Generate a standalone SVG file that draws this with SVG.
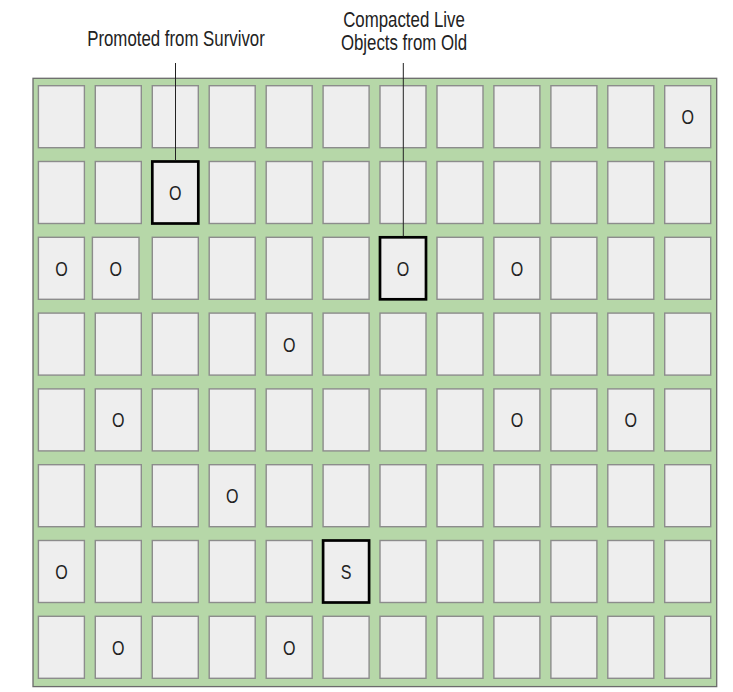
<svg xmlns="http://www.w3.org/2000/svg" width="733" height="692" viewBox="0 0 733 692">
<style>
.bg{fill:#b6d7a8;stroke:#6b6b6b;stroke-width:1.3}
.c{fill:#eeeeee;stroke:#8c8c8c;stroke-width:1.4}
.b{fill:#eeeeee;stroke:#000000;stroke-width:2.7}
.t{font-family:"Liberation Sans",Arial,sans-serif;font-size:21px;fill:#222222;text-anchor:middle}
.l{font-family:"Liberation Sans",Arial,sans-serif;font-size:22px;fill:#222222;text-anchor:middle}
.ln{stroke:#222222;stroke-width:1;fill:none}
</style>
<rect class="bg" x="33" y="78.3" width="683.7" height="608.3"/>
<g id="cells">
<g id="r0">
<g id="c0-0"><rect class="c" x="38.4" y="85.7" width="46" height="62"/></g>
<g id="c0-1"><rect class="c" x="95.3" y="85.7" width="46" height="62"/></g>
<g id="c0-2"><rect class="c" x="152.3" y="85.7" width="46" height="62"/></g>
<g id="c0-3"><rect class="c" x="209.2" y="85.7" width="46" height="62"/></g>
<g id="c0-4"><rect class="c" x="266.2" y="85.7" width="46" height="62"/></g>
<g id="c0-5"><rect class="c" x="323.1" y="85.7" width="46" height="62"/></g>
<g id="c0-6"><rect class="c" x="380" y="85.7" width="46" height="62"/></g>
<g id="c0-7"><rect class="c" x="437" y="85.7" width="46" height="62"/></g>
<g id="c0-8"><rect class="c" x="493.9" y="85.7" width="46" height="62"/></g>
<g id="c0-9"><rect class="c" x="550.9" y="85.7" width="46" height="62"/></g>
<g id="c0-10"><rect class="c" x="607.8" y="85.7" width="46" height="62"/></g>
<g id="c0-11"><rect class="c" x="664.7" y="85.7" width="46" height="62"/><text class="t" transform="translate(687.7 124.2) scale(0.765 1)">O</text></g>
</g>
<g id="r1">
<g id="c1-0"><rect class="c" x="38.4" y="161.5" width="46" height="62"/></g>
<g id="c1-1"><rect class="c" x="95.3" y="161.5" width="46" height="62"/></g>
<g id="c1-2"><rect class="b" x="152.3" y="161.5" width="46" height="62"/><text class="t" transform="translate(175.3 200) scale(0.765 1)">O</text></g>
<g id="c1-3"><rect class="c" x="209.2" y="161.5" width="46" height="62"/></g>
<g id="c1-4"><rect class="c" x="266.2" y="161.5" width="46" height="62"/></g>
<g id="c1-5"><rect class="c" x="323.1" y="161.5" width="46" height="62"/></g>
<g id="c1-6"><rect class="c" x="380" y="161.5" width="46" height="62"/></g>
<g id="c1-7"><rect class="c" x="437" y="161.5" width="46" height="62"/></g>
<g id="c1-8"><rect class="c" x="493.9" y="161.5" width="46" height="62"/></g>
<g id="c1-9"><rect class="c" x="550.9" y="161.5" width="46" height="62"/></g>
<g id="c1-10"><rect class="c" x="607.8" y="161.5" width="46" height="62"/></g>
<g id="c1-11"><rect class="c" x="664.7" y="161.5" width="46" height="62"/></g>
</g>
<g id="r2">
<g id="c2-0"><rect class="c" x="38.4" y="237.3" width="46" height="62"/><text class="t" transform="translate(61.4 275.8) scale(0.765 1)">O</text></g>
<g id="c2-1"><rect class="c" x="92.4" y="237.3" width="46.6" height="62"/><text class="t" transform="translate(115.8 275.8) scale(0.765 1)">O</text></g>
<g id="c2-2"><rect class="c" x="152.3" y="237.3" width="46" height="62"/></g>
<g id="c2-3"><rect class="c" x="209.2" y="237.3" width="46" height="62"/></g>
<g id="c2-4"><rect class="c" x="266.2" y="237.3" width="46" height="62"/></g>
<g id="c2-5"><rect class="c" x="323.1" y="237.3" width="46" height="62"/></g>
<g id="c2-6"><rect class="b" x="380" y="237.3" width="46" height="62"/><text class="t" transform="translate(403 275.8) scale(0.765 1)">O</text></g>
<g id="c2-7"><rect class="c" x="437" y="237.3" width="46" height="62"/></g>
<g id="c2-8"><rect class="c" x="493.9" y="237.3" width="46" height="62"/><text class="t" transform="translate(516.9 275.8) scale(0.765 1)">O</text></g>
<g id="c2-9"><rect class="c" x="550.9" y="237.3" width="46" height="62"/></g>
<g id="c2-10"><rect class="c" x="607.8" y="237.3" width="46" height="62"/></g>
<g id="c2-11"><rect class="c" x="664.7" y="237.3" width="46" height="62"/></g>
</g>
<g id="r3">
<g id="c3-0"><rect class="c" x="38.4" y="313.1" width="46" height="62"/></g>
<g id="c3-1"><rect class="c" x="95.3" y="313.1" width="46" height="62"/></g>
<g id="c3-2"><rect class="c" x="152.3" y="313.1" width="46" height="62"/></g>
<g id="c3-3"><rect class="c" x="209.2" y="313.1" width="46" height="62"/></g>
<g id="c3-4"><rect class="c" x="266.2" y="313.1" width="46" height="62"/><text class="t" transform="translate(289.2 351.6) scale(0.765 1)">O</text></g>
<g id="c3-5"><rect class="c" x="323.1" y="313.1" width="46" height="62"/></g>
<g id="c3-6"><rect class="c" x="380" y="313.1" width="46" height="62"/></g>
<g id="c3-7"><rect class="c" x="437" y="313.1" width="46" height="62"/></g>
<g id="c3-8"><rect class="c" x="493.9" y="313.1" width="46" height="62"/></g>
<g id="c3-9"><rect class="c" x="550.9" y="313.1" width="46" height="62"/></g>
<g id="c3-10"><rect class="c" x="607.8" y="313.1" width="46" height="62"/></g>
<g id="c3-11"><rect class="c" x="664.7" y="313.1" width="46" height="62"/></g>
</g>
<g id="r4">
<g id="c4-0"><rect class="c" x="38.4" y="388.9" width="46" height="62"/></g>
<g id="c4-1"><rect class="c" x="95.3" y="388.9" width="46" height="62"/><text class="t" transform="translate(118.3 427.4) scale(0.765 1)">O</text></g>
<g id="c4-2"><rect class="c" x="152.3" y="388.9" width="46" height="62"/></g>
<g id="c4-3"><rect class="c" x="209.2" y="388.9" width="46" height="62"/></g>
<g id="c4-4"><rect class="c" x="266.2" y="388.9" width="46" height="62"/></g>
<g id="c4-5"><rect class="c" x="323.1" y="388.9" width="46" height="62"/></g>
<g id="c4-6"><rect class="c" x="380" y="388.9" width="46" height="62"/></g>
<g id="c4-7"><rect class="c" x="437" y="388.9" width="46" height="62"/></g>
<g id="c4-8"><rect class="c" x="493.9" y="388.9" width="46" height="62"/><text class="t" transform="translate(516.9 427.4) scale(0.765 1)">O</text></g>
<g id="c4-9"><rect class="c" x="550.9" y="388.9" width="46" height="62"/></g>
<g id="c4-10"><rect class="c" x="607.8" y="388.9" width="46" height="62"/><text class="t" transform="translate(630.8 427.4) scale(0.765 1)">O</text></g>
<g id="c4-11"><rect class="c" x="664.7" y="388.9" width="46" height="62"/></g>
</g>
<g id="r5">
<g id="c5-0"><rect class="c" x="38.4" y="464.7" width="46" height="62"/></g>
<g id="c5-1"><rect class="c" x="95.3" y="464.7" width="46" height="62"/></g>
<g id="c5-2"><rect class="c" x="152.3" y="464.7" width="46" height="62"/></g>
<g id="c5-3"><rect class="c" x="209.2" y="464.7" width="46" height="62"/><text class="t" transform="translate(232.2 503.2) scale(0.765 1)">O</text></g>
<g id="c5-4"><rect class="c" x="266.2" y="464.7" width="46" height="62"/></g>
<g id="c5-5"><rect class="c" x="323.1" y="464.7" width="46" height="62"/></g>
<g id="c5-6"><rect class="c" x="380" y="464.7" width="46" height="62"/></g>
<g id="c5-7"><rect class="c" x="437" y="464.7" width="46" height="62"/></g>
<g id="c5-8"><rect class="c" x="493.9" y="464.7" width="46" height="62"/></g>
<g id="c5-9"><rect class="c" x="550.9" y="464.7" width="46" height="62"/></g>
<g id="c5-10"><rect class="c" x="607.8" y="464.7" width="46" height="62"/></g>
<g id="c5-11"><rect class="c" x="664.7" y="464.7" width="46" height="62"/></g>
</g>
<g id="r6">
<g id="c6-0"><rect class="c" x="38.4" y="540.5" width="46" height="62"/><text class="t" transform="translate(61.4 579) scale(0.765 1)">O</text></g>
<g id="c6-1"><rect class="c" x="95.3" y="540.5" width="46" height="62"/></g>
<g id="c6-2"><rect class="c" x="152.3" y="540.5" width="46" height="62"/></g>
<g id="c6-3"><rect class="c" x="209.2" y="540.5" width="46" height="62"/></g>
<g id="c6-4"><rect class="c" x="266.2" y="540.5" width="46" height="62"/></g>
<g id="c6-5"><rect class="b" x="323.1" y="540.5" width="46" height="62"/><text class="t" transform="translate(346.1 579) scale(0.765 1)">S</text></g>
<g id="c6-6"><rect class="c" x="380" y="540.5" width="46" height="62"/></g>
<g id="c6-7"><rect class="c" x="437" y="540.5" width="46" height="62"/></g>
<g id="c6-8"><rect class="c" x="493.9" y="540.5" width="46" height="62"/></g>
<g id="c6-9"><rect class="c" x="550.9" y="540.5" width="46" height="62"/></g>
<g id="c6-10"><rect class="c" x="607.8" y="540.5" width="46" height="62"/></g>
<g id="c6-11"><rect class="c" x="664.7" y="540.5" width="46" height="62"/></g>
</g>
<g id="r7">
<g id="c7-0"><rect class="c" x="38.4" y="616.3" width="46" height="62"/></g>
<g id="c7-1"><rect class="c" x="95.3" y="616.3" width="46" height="62"/><text class="t" transform="translate(118.3 654.8) scale(0.765 1)">O</text></g>
<g id="c7-2"><rect class="c" x="152.3" y="616.3" width="46" height="62"/></g>
<g id="c7-3"><rect class="c" x="209.2" y="616.3" width="46" height="62"/></g>
<g id="c7-4"><rect class="c" x="266.2" y="616.3" width="46" height="62"/><text class="t" transform="translate(289.2 654.8) scale(0.765 1)">O</text></g>
<g id="c7-5"><rect class="c" x="323.1" y="616.3" width="46" height="62"/></g>
<g id="c7-6"><rect class="c" x="380" y="616.3" width="46" height="62"/></g>
<g id="c7-7"><rect class="c" x="437" y="616.3" width="46" height="62"/></g>
<g id="c7-8"><rect class="c" x="493.9" y="616.3" width="46" height="62"/></g>
<g id="c7-9"><rect class="c" x="550.9" y="616.3" width="46" height="62"/></g>
<g id="c7-10"><rect class="c" x="607.8" y="616.3" width="46" height="62"/></g>
<g id="c7-11"><rect class="c" x="664.7" y="616.3" width="46" height="62"/></g>
</g>
</g>
<g id="connectors">
<line class="ln" x1="175.5" y1="63" x2="175.5" y2="160.5"/>
<line class="ln" x1="403.3" y1="63" x2="403.3" y2="236.3"/>
</g>
<g id="label-promoted"><text class="l" transform="translate(176 45.5) scale(0.765 1)">Promoted from Survivor</text></g>
<g id="label-compacted"><text class="l" transform="translate(404 26.5) scale(0.765 1)">Compacted Live</text><text class="l" transform="translate(404 50) scale(0.765 1)">Objects from Old</text></g>
</svg>
